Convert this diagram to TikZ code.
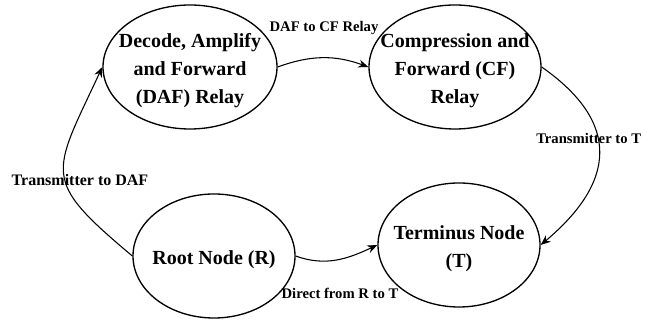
\documentclass[tikz,border=0pt]{standalone}
\usepackage{fontspec}
\setmainfont{Liberation Serif}
\usetikzlibrary{shapes.geometric,arrows.meta,positioning}

\begin{document}
\begin{tikzpicture}[x=0.75pt,y=0.75pt,
    state/.style={draw,ellipse,line width=1pt,minimum height=93pt,inner sep=0pt},
    txt/.style={align=center,yshift=-3pt,font=\fontsize{15}{21}\selectfont\bfseries},
    arr/.style={-{Stealth[length=7.5pt,width=6pt]},line width=0.8pt},
    lbl/.style={font=\fontsize{11}{13}\selectfont\bfseries,inner sep=0pt},
    biglbl/.style={lbl,font=\fontsize{12}{14}\selectfont\bfseries}
  ]
    \useasboundingbox (0,0) rectangle (649,320);

    \node[state,minimum width=130.5pt,label={[txt]center:{Decode, Amplify\\and Forward\\(DAF) Relay}}] (daf) at (190,253) {};
    \node[state,minimum width=129pt,label={[txt]center:{Compression and\\Forward (CF)\\Relay}}] (cf) at (455,253) {};
    \node[state,minimum width=121.5pt,label={[txt]center:{Root Node (R)}}] (root) at (214,64) {};
    \node[state,minimum width=121.5pt,label={[txt]center:{Terminus Node\\(T)}}] (term) at (459,75) {};

    \draw[arr] (daf.east) to[bend left=20] (cf.west);
    \draw[arr] (cf.east) to[out=-35,in=40,looseness=1.4] (term.east);
    \draw[arr] (root.west) to[out=140,in=-115,looseness=1.6] (daf.west);
    \draw[arr] (root.east) to[out=-20,in=205] (term.west);

    \node[lbl] (l1) at (324,292) {DAF to CF Relay};
    \node[lbl,anchor=west] (l2) at (536,182) {Transmitter to T};
    \node[biglbl] (l3) at (80,140) {Transmitter to DAF};
    \node[lbl] (l4) at (340,27) {Direct from R to T};
\end{tikzpicture}
\end{document}
